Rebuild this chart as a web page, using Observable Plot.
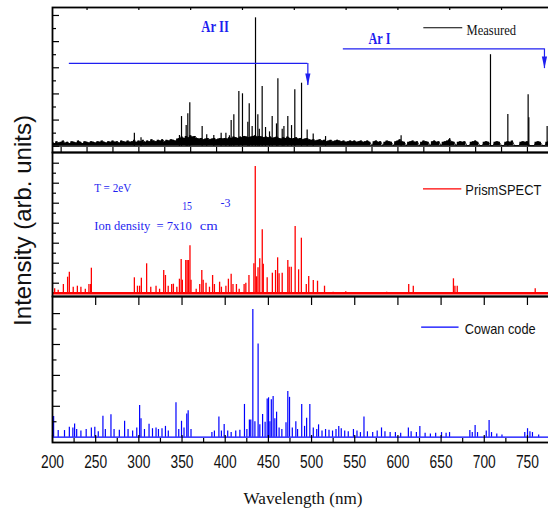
<!DOCTYPE html>
<html><head><meta charset="utf-8">
<script src="https://cdn.jsdelivr.net/npm/d3@7"></script>
<script src="https://cdn.jsdelivr.net/npm/@observablehq/plot@0.6"></script>
<style>body{margin:0;background:#fff;} #chart svg{display:block;}</style>
</head><body><div id="chart"></div>
<script>
// ---------- data ----------
const xDomain = [200, 776.7];
const xLabels = [200, 250, 300, 350, 400, 450, 500, 550, 600, 650, 700, 750];
const xMinor = [225, 275, 325, 375, 425, 475, 525, 575, 625, 675, 725, 775];
const p1BottomTicks = [210,240,270,300,330,360,390,420,450,480,510,540,570,600,630,660,690,720,750];
const p1TopTicks = [240,300,360,420,480,540,600,660,720];

// Measured: baseline noise envelope, one value every 2.5 nm from 200 nm
const noiseStart = 200, noiseStep = 2.5;
const measuredNoise = [
 0.3,0.2,0.35,0.25,0.3,0.4,0.25,0.3,0.2,0.35,0.3,0.25,0.4,0.3,0.2,0.35,0.3,0.25,0.35,0.3,
 0.25,0.35,0.3,0.4,0.3,0.25,0.35,0.3,0.4,0.3,0.35,0.25,0.4,0.35,0.3,0.4,0.3,0.35,0.45,0.3,
 0.4,0.35,0.45,0.3,0.4,0.35,0.5,0.4,0.35,0.45,0.4,0.5,0.35,0.45,0.4,0.5,0.45,0.4,0.55,0.6,
 0.7,0.6,0.75,0.65,0.8,0.7,0.75,0.6,0.55,0.6,0.5,0.55,0.6,0.5,0.55,0.6,0.5,0.55,0.6,0.55,
 0.6,0.55,0.65,0.6,0.7,0.65,0.6,0.7,0.65,0.75,0.7,0.65,0.7,0.75,0.8,0.7,0.75,0.7,0.65,0.7,
 0.65,0.7,0.6,0.65,0.7,0.6,0.55,0.65,0.6,0.7,0.6,0.55,0.6,0.65,0.55,0.6,0.5,0.55,0.6,0.5,
 0.45,0.5,0.4,0.45,0.5,0.4,0.45,0.35,0.4,0.45,0.35,0.4,0.45,0.4,0.35,0.4,0.3,0.35,0.4,0.35,
 0.4,0.3,0.35,0.4,0.3,0.35,0.4,0.3,0.05,0.35,0.4,0.3,0.35,0.05,0.3,0.4,0.35,0.3,0.05,0.35,
 0.4,0.5,0.35,0.3,0.05,0.3,0.35,0.4,0.3,0.35,0.05,0.3,0.4,0.35,0.3,0.05,0.35,0.4,0.3,0.35,
 0.05,0.3,0.35,0.4,0.5,0.35,0.3,0.05,0.3,0.35,0.3,0.35,0.05,0.05,0.3,0.35,0.4,0.3,0.05,0.05,
 0.3,0.35,0.3,0.05,0.05,0.3,0.35,0.3,0.05,0.05,0.3,0.35,0.3,0.4,0.05,0.05,0.05,0.3,0.35,0.3,
 0.35,0.05,0.05,0.05,0.3,0.35,0.3,0.05,0.05,0.3,0.35
];
// Measured lines [nm, intensity]
const measuredLines = [
 [294.8,1.0],[302.5,0.64],[347,0.82],[349.4,2.27],[354.8,1.58],[356.7,2.48],[359.0,3.32],
 [373.3,1.51],[378.6,0.87],[386.8,0.82],[395.3,1.0],[400.8,1.0],[404.9,0.8],[406.9,1.97],
 [410.0,2.4],[415.8,4.19],[420.0,4.01],[426.2,1.84],[427.8,3.24],[431.2,1.5],[435.1,9.82],
 [437.8,2.4],[439.5,1.3],[442.8,4.57],[446.7,1.43],[451.3,1.1],[454.4,2.27],[459.4,1.71],
 [461.0,5.16],[466.0,1.3],[468.0,1.5],[472.5,2.27],[476.8,1.58],[480.6,4.31],[488.4,4.82],
 [494.9,1.25],[501.9,0.94],[516.2,0.74],[603.7,0.8],[660,0.6],[707.2,7.0],[727.3,2.43],
 [750.8,3.93],[751.6,2.17],[772.8,1.5]
];
// PrismSPECT lines [nm, intensity]
const prismLines = [
 [202.5,0.44],[206.6,0.3],[212.6,0.87],[217.5,1.6],[219.5,2.1],[224,0.6],[228.8,0.7],[232.9,0.6],
 [238,0.4],[242.2,0.87],[244.2,0.87],[245,2.5],
 [294.8,1.54],[298.4,0.7],[300.9,0.7],[302.9,1.5],[309,2.94],[313.8,0.6],[319.9,0.7],[324,0.4],
 [328.8,2.27],[330.8,1.77],[334,0.7],[338,0.87],[340,0.9],[344,0.6],[347,1.4],[349,3.37],[350.4,1.3],
 [354.3,3.27],[355.9,3.27],[357.5,3.27],[359.2,4.74],[360.4,1.3],[366.4,0.4],[370.5,0.87],[372.9,2.27],
 [374.5,1.3],[377.8,1.0],[381.8,0.6],[385.4,1.77],[387.5,0.87],[393.5,1.1],[395.6,0.6],[400.8,0.7],
 [403.7,1.4],[406.9,1.9],[409,0.87],[413,0.87],[416.2,0.4],[421.9,0.87],[423.9,1.0],[427.5,1.77],
 [433.2,2.94],[434.8,12.67],[436.4,1.64],[438,2.54],[440,3.44],[442.9,6.34],[444.1,2.9],[448.6,1.54],
 [454.6,2.0],[458.3,2.27],[460.7,3.54],[462.4,1.94],[466,2.0],[472.5,3.27],[474.1,2.6],[476.5,2.6],
 [481,6.67],[485,2.34],[488.2,5.5],[493.9,0.87],[496.7,1.67],[502,1.27],[506.9,1.2],[515,0.7],
 [525,0.1],[539.6,0.14],[587,0.1],[612.5,0.87],[617.8,0.7],[664.3,1.44],[666,0.7],[668.7,0.7],[759,0.44]
];
// Cowan code lines [nm, intensity]
const cowanLines = [
 [201.3,1.34],[206.6,0.43],[213.9,0.43],[219.5,0.65],[223.6,0.6],[225.6,0.86],[228,0.5],[232.9,0.4],
 [239,0.5],[245,0.6],[249,0.65],[253,0.35],[258.4,1.35],[261.2,0.5],[267.7,1.46],[271.3,0.5],
 [277.4,0.45],[283.5,1.03],[287.5,0.5],[292.8,0.4],[297.6,0.6],[300.9,2.05],[302.5,1.2],[306.5,0.5],
 [311.8,0.84],[315.8,0.55],[319.9,0.6],[322.7,0.5],[326.8,0.55],[330.8,0.7],[334.1,0.4],[343,2.23],
 [346.2,0.5],[349.4,1.03],[352.3,0.6],[355.5,1.5],[357.1,1.72],[360.4,0.5],[384.6,0.3],[387.5,0.4],
 [392.7,1.3],[395.6,0.4],[398.8,0.82],[402.9,0.4],[406.9,0.3],[412.2,0.4],[417,0.45],[422.3,2.12],
 [425.1,0.5],[428,1.12],[429.6,1.12],[432,8.27],[434.4,1.0],[438.1,6.04],[440.1,0.8],[443.3,1.47],
 [446.2,0.97],[448.6,2.48],[450.2,2.55],[451.8,1.0],[453.4,2.42],[455.5,2.63],[457.5,1.2],[459.5,1.62],
 [462.4,0.6],[465.6,0.5],[470.4,0.94],[472.5,2.96],[474.5,2.58],[477.7,0.6],[481.8,1.0],[483.8,0.5],
 [488.6,2.12],[491.9,0.7],[494.3,1.23],[498,2.12],[502,0.6],[506,0.5],[508.1,0.8],[512.1,0.4],
 [516.2,0.5],[520.2,0.45],[524.3,0.4],[528.3,0.5],[531.5,0.7],[534.4,0.55],[538.4,0.4],[542.5,0.35],
 [548.5,0.5],[552.6,0.4],[556.6,0.3],[560.7,1.3],[564.7,0.35],[570.8,0.3],[576,0.4],[581,0.6],
 [585,0.35],[591,0.3],[597.1,0.3],[603.2,0.25],[612.1,0.6],[615.3,0.35],[621.4,0.3],[625.4,0.7],
 [631.5,0.25],[637.6,0.2],[643.7,0.25],[650.5,0.3],[655.8,0.25],[659.8,0.3],[683.3,0.43],[686.1,0.3],
 [689.4,0.75],[692.2,0.3],[702.3,0.4],[705.6,1.08],[708.4,0.3],[714.5,0.2],[720.5,0.15],[746.9,0.3],
 [750.1,0.55],[752.9,0.35],[755.8,0.3],[763,0.15]
];
// annotations (data units of each panel)
const ionArrows = [
 {x1: 219.5, x2: 495.7, y: 6.33, tip: 4.64},
 {x1: 536.8, x2: 769.7, y: 7.45, tip: 5.94}
];
const ionLabels = [
 {x: 388.2, y: 9.1, text: "Ar II"},
 {x: 578.6, y: 8.22, text: "Ar I"}
];
const plasmaLabels = [
 {x: 248.3, y: 10.52, text: "T = 2eV"},
 {x: 248.3, y: 6.72, text: "Ion density  = 7x10"},
 {x: 350.2, y: 8.69, text: "15"},
 {x: 370.5, y: 6.72, text: "cm"},
 {x: 394.5, y: 9.02, text: "-3"}
];
const legends = {
 measured: {x1: 630, x2: 675.1, y: 9.06, tx: 679.4, ty: 8.87, text: "Measured"},
 prism: {x1: 629.6, x2: 674, y: 10.44, tx: 678.1, ty: 10.24, text: "PrismSPECT"},
 cowan: {x1: 627.5, x2: 670.8, y: 7.12, tx: 677.3, ty: 7.0, text: "Cowan code"}
};

// ---------- drawing ----------
const BLUE = "#0000ff", ABLUE = "#1f1ff0", RED = "#ff0000";
const SANS = "Liberation Sans, Arial, sans-serif", SERIF = "Liberation Serif, Times New Roman, serif";
// rendered text widths (px) to mimic the narrow lettering of the original
const textWidths = {"Ar II": 27.6, "Ar I": 22, "T = 2eV": 37, "Ion density  = 7x10": 97.5,
  "15": 9.8, "cm": 18, "-3": 10, "Measured": 49.5, "PrismSPECT": 76, "Cowan code": 71,
  "Wavelength (nm)": 119};
const noise = measuredNoise.map((v, i) => ({nm: noiseStart + i * noiseStep, v}));
const arrowHead = {draw(ctx) { ctx.moveTo(-2.6, -12); ctx.lineTo(2.6, -12); ctx.lineTo(0, 0); ctx.closePath(); }};
const innerW = 548 + 2 - 52;
const common = {
  width: 548, marginLeft: 52, marginRight: -2,
  style: {overflow: "visible", background: "transparent", fontFamily: SANS}
};
const leftTicks = (major, minor, lMaj, lMin) => [
  Plot.tickY(major, {y: d => d, insetRight: innerW - lMaj, stroke: "black", strokeWidth: 1.2}),
  Plot.tickY(minor, {y: d => d, insetRight: innerW - lMin, stroke: "black", strokeWidth: 1.2})
];
const legend = (L, color, font, size) => [
  Plot.ruleY([L], {x1: "x1", x2: "x2", y: "y", stroke: color, strokeWidth: 1.2}),
  Plot.text([L], {x: "tx", y: "ty", text: "text", textAnchor: "start", lineAnchor: "middle",
    fontFamily: font, fontSize: size, fill: "#111"})
];

const p1 = Plot.plot({...common, height: 152, marginTop: 7, marginBottom: 0,
  x: {domain: xDomain, axis: null},
  y: {domain: [-0.48, 10.61], axis: null},
  marks: [
    Plot.areaY(noise, {x: "nm", y: "v", fill: "black", curve: "step"}),
    Plot.lineY(noise, {x: "nm", y: "v", stroke: "black", strokeWidth: 0.8}),
    Plot.ruleY([0], {stroke: "black", strokeWidth: 1}),
    Plot.ruleX(measuredLines, {x: d => d[0], y1: 0, y2: d => d[1], stroke: "black", strokeWidth: 1.2}),
    Plot.ruleY(ionArrows, {x1: "x1", x2: "x2", y: "y", stroke: ABLUE, strokeWidth: 1.2}),
    Plot.ruleX(ionArrows, {x: "x2", y1: "y", y2: "tip", stroke: ABLUE, strokeWidth: 1.2}),
    Plot.dot(ionArrows, {x: "x2", y: "tip", symbol: arrowHead, fill: ABLUE, stroke: "none"}),
    Plot.text(ionLabels, {x: "x", y: "y", text: "text", fontFamily: SERIF,
      fontWeight: "bold", fontSize: 16, fill: ABLUE, lineAnchor: "middle"}),
    ...legend(legends.measured, "black", SERIF, 14),
    Plot.tickX(p1BottomTicks, {x: d => d, insetTop: 145 - 5, stroke: "black", strokeWidth: 1.2}),
    Plot.tickX(p1TopTicks, {x: d => d, insetBottom: 145 - 3, stroke: "black", strokeWidth: 1.2}),
    ...leftTicks([0,2,4,6,8,10], [1,3,5,7,9], 7, 4),
    Plot.frame({stroke: "black", strokeWidth: 1.8})
  ]
});

const p2 = Plot.plot({...common, height: 144, marginTop: 0, marginBottom: 0,
  x: {domain: xDomain, axis: null},
  y: {domain: [-0.33, 14.07], axis: null},
  marks: [
    Plot.ruleX(prismLines, {x: d => d[0], y1: 0, y2: d => d[1], stroke: RED, strokeWidth: 1.3}),
    Plot.ruleY([0], {stroke: RED, strokeWidth: 2.4}),
    Plot.text(plasmaLabels, {x: "x", y: "y", text: "text", fontFamily: SERIF,
      fontSize: 13, fill: ABLUE, textAnchor: "start", lineAnchor: "middle"}),
    ...legend(legends.prism, RED, SANS, 14),
    ...leftTicks([1,3,5,7,9,11,13], [2,4,6,8,10,12], 7, 4),
    Plot.text(["Intensity (arb. units)"], {text: d => d, frameAnchor: "left", rotate: -90, dx: -29, dy: -4,
      fontSize: 24, fontFamily: SANS, fill: "#111", lineAnchor: "middle", textAnchor: "middle"}),
    Plot.frame({stroke: "black", strokeWidth: 1.8})
  ]
});

const p3 = Plot.plot({...common, height: 216, marginTop: 0, marginBottom: 70,
  x: {domain: xDomain},
  y: {domain: [-0.343, 9.107], axis: null},
  marks: [
    Plot.ruleX(cowanLines, {x: d => d[0], y1: 0, y2: d => d[1], stroke: BLUE, strokeWidth: 1.2}),
    Plot.ruleY([0], {stroke: BLUE, strokeWidth: 1.3}),
    ...legend(legends.cowan, BLUE, SANS, 14.5),
    Plot.tickX(xLabels.slice(1), {x: d => d, insetBottom: 146 - 9, stroke: "black", strokeWidth: 1.2}),
    Plot.tickX(xLabels, {x: d => d, insetTop: 146 - 7, stroke: "black", strokeWidth: 1.2}),
    Plot.tickX(xMinor, {x: d => d, insetTop: 146 - 4, stroke: "black", strokeWidth: 1.2}),
    ...leftTicks([2,4,6,8], [1,3,5,7], 8, 4.5),
    Plot.axisX({ticks: xLabels, anchor: "bottom", tickSize: 0, tickPadding: 13, fontSize: 18,
      fontFamily: SANS, fill: "#111", label: null}),
    Plot.text(["Wavelength (nm)"], {text: d => d, frameAnchor: "bottom", dx: 1.5, dy: 56.3,
      fontSize: 17, fontFamily: SERIF, fill: "#111", lineAnchor: "middle"}),
    Plot.frame({stroke: "black", strokeWidth: 1.8})
  ]
});

const host = document.getElementById("chart");
[p1, p2, p3].forEach(s => host.appendChild(s));

// narrow the lettering to the widths seen in the original
const tickLabelSet = new Set(xLabels.map(String));
[p1, p2, p3].forEach(svg => {
  svg.querySelectorAll("text").forEach(t => {
    const s = t.textContent;
    const w = textWidths[s] ?? (tickLabelSet.has(s) ? 23 : null);
    if (w != null) {
      t.setAttribute("textLength", w);
      t.setAttribute("lengthAdjust", "spacingAndGlyphs");
    }
  });
});
</script></body></html>
